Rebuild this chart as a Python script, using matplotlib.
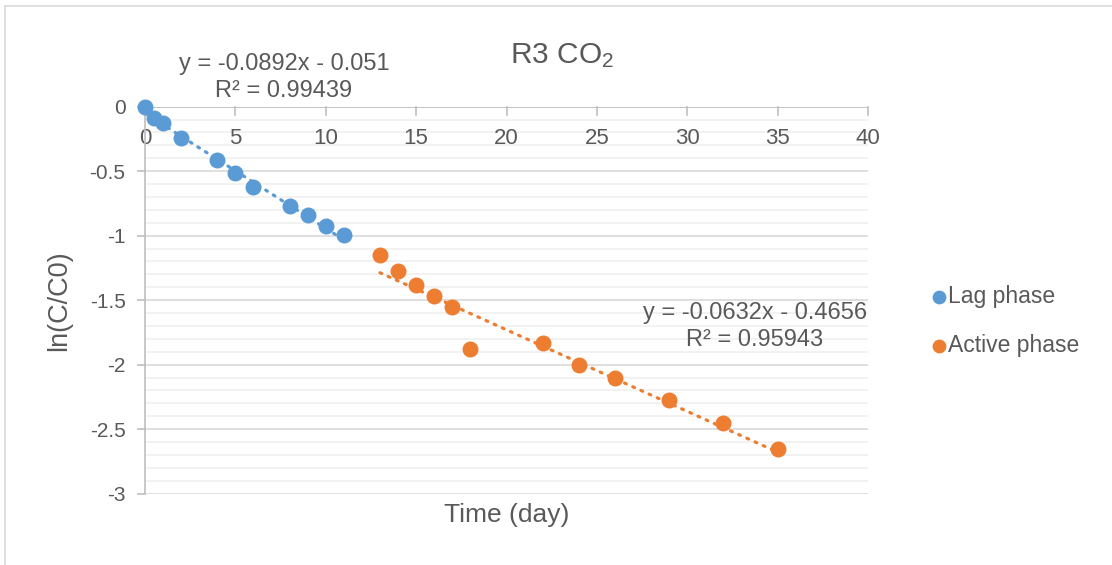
import matplotlib
matplotlib.use("Agg")
import matplotlib.pyplot as plt
import numpy as np
from matplotlib.patches import Rectangle
from matplotlib.ticker import MultipleLocator

plt.rcParams['font.family'] = ['Liberation Sans', 'DejaVu Sans']
plt.rcParams['mathtext.default'] = 'regular'

# Data
lag_day = [0, 0.5, 1, 2, 4, 5, 6, 8, 9, 10, 11]
lag_ln = [0, -0.09, -0.125, -0.245, -0.41, -0.515, -0.625, -0.77, -0.84, -0.925, -0.995]
act_day = [13, 14, 15, 16, 17, 18, 22, 24, 26, 29, 32, 35]
act_ln = [-1.15, -1.27, -1.38, -1.47, -1.555, -1.88, -1.83, -2.005, -2.105, -2.275, -2.455, -2.655]
lag_fit = (-0.0892, -0.051)
act_fit = (-0.0632, -0.4656)
lag_eq = ["y = -0.0892x - 0.051", "R² = 0.99439"]
act_eq = ["y = -0.0632x - 0.4656", "R² = 0.95943"]
x_ticks = [0, 5, 10, 15, 20, 25, 30, 35, 40]
y_ticks = [0, -0.5, -1, -1.5, -2, -2.5, -3]

BLUE = '#5B9BD5'
ORANGE = '#ED7D31'
TXT = '#595959'
W, H = 1112, 565

fig = plt.figure(figsize=(W/100, H/100), dpi=100)
fig.patches.append(Rectangle((5/W, -0.1), 1.2, 1 - 6/H + 0.1, transform=fig.transFigure,
                             fill=False, edgecolor='#D9D9D9', linewidth=1.2))

ax = fig.add_axes([145/W, 1 - 493.7/H, (868-145)/W, (493.7-106.7)/H])
ax.set_xlim(0, 40)
ax.set_ylim(-3, 0)

ax.yaxis.set_major_locator(MultipleLocator(0.5))
ax.yaxis.set_minor_locator(MultipleLocator(0.1))
ax.set_xticks(x_ticks)
ax.set_yticks(y_ticks)
ax.set_yticklabels([f"{v:g}" for v in y_ticks])
ax.grid(which='major', axis='y', color='#D9D9D9', linewidth=1.2, zorder=0)
ax.grid(which='minor', axis='y', color='#F0F0F0', linewidth=1.2, zorder=0)
ax.set_axisbelow(True)
ax.xaxis.set_zorder(1.5)

for s in ['top', 'right', 'bottom']:
    ax.spines[s].set_visible(False)
ax.spines['left'].set_color('#BFBFBF')
ax.spines['left'].set_linewidth(1.2)
ax.axhline(0, color='#BFBFBF', linewidth=1.2, zorder=1)

ax.tick_params(axis='y', which='major', direction='out', length=5.5, width=1.2, color='#BFBFBF',
               labelsize=15, labelcolor=TXT, pad=8.5)
ax.tick_params(axis='y', which='minor', length=0)
# x ticks hang down from the axis line at y=0
for xt in x_ticks:
    ax.plot([xt, xt], [0, -0.062], color='#BFBFBF', linewidth=1.2, clip_on=False, zorder=1)
ax.xaxis.set_ticks_position('top')
ax.tick_params(axis='x', which='major', length=0, labeltop=True, labelbottom=False,
               labelsize=16, labelcolor=TXT, pad=-15.5)
for lbl in ax.get_xticklabels():
    lbl.set_verticalalignment('top')

# trend lines
xl = np.array([min(lag_day), max(lag_day)])
ax.plot(xl, lag_fit[0]*xl + lag_fit[1], color=BLUE, linewidth=2.3,
        linestyle=(0, (0.6, 2.2)), dash_capstyle='round', zorder=2)
xa = np.array([min(act_day), max(act_day)])
ax.plot(xa, act_fit[0]*xa + act_fit[1], color=ORANGE, linewidth=2.3,
        linestyle=(0, (0.6, 2.2)), dash_capstyle='round', zorder=2)

ax.scatter(lag_day, lag_ln, s=110, color=BLUE, zorder=3, label='Lag phase', clip_on=False)
ax.scatter(act_day, act_ln, s=110, color=ORANGE, zorder=3, label='Active phase', clip_on=False)

ax.set_xlabel('Time (day)', fontsize=19, color=TXT, labelpad=7)
ax.set_ylabel('ln(C/C0)', fontsize=19.5, color=TXT)
ax.yaxis.set_label_coords((72-145)/723, 0.5)

fig.text(562/W, 1 - 63/H, 'R3 CO$_2$', fontsize=21.5, color=TXT, ha='center', va='baseline')
fig.text(284/W, 1 - 70/H, lag_eq[0], fontsize=17, color=TXT, ha='center', va='baseline')
fig.text(284/W, 1 - 97.5/H, lag_eq[1], fontsize=17, color=TXT, ha='center', va='baseline')
fig.text(755/W, 1 - 319/H, act_eq[0], fontsize=17, color=TXT, ha='center', va='baseline')
fig.text(755/W, 1 - 346.5/H, act_eq[1], fontsize=17, color=TXT, ha='center', va='baseline')

leg = fig.legend(handles=ax.collections, labels=['Lag phase', 'Active phase'],
                 loc='center left', bbox_to_anchor=(907/W, 1 - 321/H), frameon=False,
                 fontsize=16.5, labelcolor=TXT, handletextpad=-0.1, handlelength=1.0,
                 markerscale=0.85, labelspacing=1.1)

fig.savefig('out.png', dpi=100)
